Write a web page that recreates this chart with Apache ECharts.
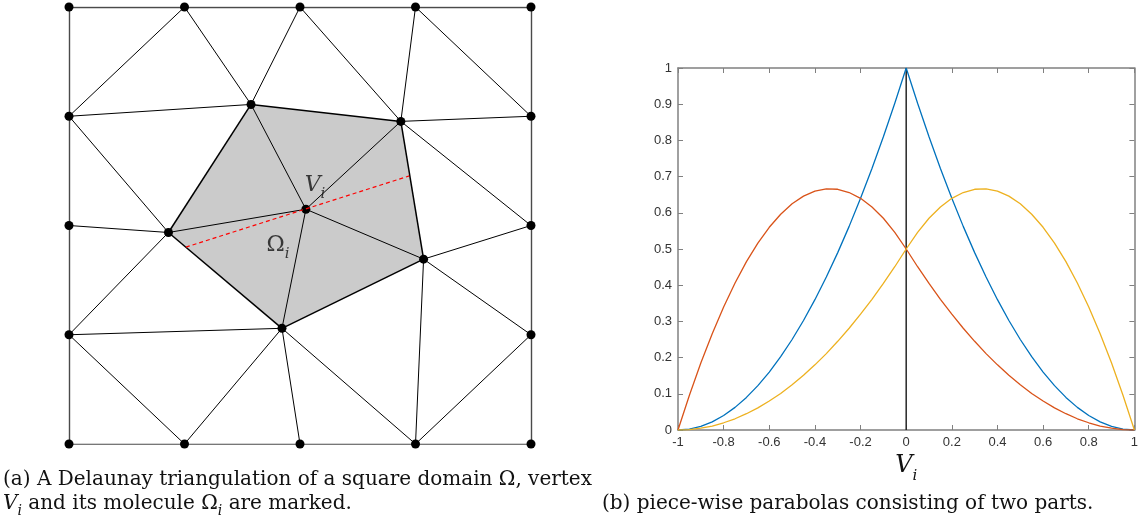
<!DOCTYPE html>
<html>
<head>
<meta charset="utf-8">
<title>Delaunay molecule and piece-wise parabolas</title>
<script src="https://cdn.jsdelivr.net/npm/echarts@6/dist/echarts.min.js"></script>
<style>
  html, body { margin: 0; padding: 0; background: #fff; }
  #main { width: 1141px; height: 526px; }
</style>
</head>
<body>
<div id="main"></div>
<script>
// ---------- (a) triangulation, domain is the square [0,4] x [0,4] ----------
var nodes = [
  [0, 4], [1, 4], [2, 4], [3, 4], [4, 4],          // 0-4 top row
  [0, 3], [0, 2], [0, 1],                          // 5-7 left side
  [4, 3], [4, 2], [4, 1],                          // 8-10 right side
  [0, 0], [1, 0], [2, 0], [3, 0], [4, 0],          // 11-15 bottom row
  [1.576, 3.108], [2.873, 2.953], [2.051, 2.149],  // 16 A, 17 B, 18 Vi
  [0.861, 1.936], [3.070, 1.692], [1.844, 1.059]   // 19 C, 20 D, 21 E
];
var boundaryEdges = [
  [0, 1], [1, 2], [2, 3], [3, 4], [4, 8], [8, 9], [9, 10], [10, 15],
  [15, 14], [14, 13], [13, 12], [12, 11], [11, 7], [7, 6], [6, 5], [5, 0]
];
var innerEdges = [
  [1, 5], [1, 16], [2, 16], [2, 17], [3, 17], [3, 8], [5, 16], [5, 19],
  [17, 8], [17, 9], [16, 18], [17, 18], [19, 18], [18, 20], [18, 21],
  [6, 19], [19, 7], [20, 9], [20, 10], [7, 21], [7, 12], [21, 12],
  [21, 13], [21, 14], [20, 14], [14, 10]
];
var molecule = [16, 17, 20, 21, 19];
var cutLine = [[1.012, 1.802], [2.946, 2.454]];
var markNames = ['V', 'Ω'];
var markAnchors = [[2.13, 2.33], [1.81, 1.78]];

// ---------- (b) piece-wise parabolas ----------
var xVals = [-1, -0.95, -0.9, -0.85, -0.8, -0.75, -0.7, -0.65, -0.6, -0.55, -0.5,
  -0.45, -0.4, -0.35, -0.3, -0.25, -0.2, -0.15, -0.1, -0.05, 0,
  0.05, 0.1, 0.15, 0.2, 0.25, 0.3, 0.35, 0.4, 0.45, 0.5,
  0.55, 0.6, 0.65, 0.7, 0.75, 0.8, 0.85, 0.9, 0.95, 1];
var blueVals = [0, 0.0025, 0.01, 0.0225, 0.04, 0.0625, 0.09, 0.1225, 0.16, 0.2025, 0.25,
  0.3025, 0.36, 0.4225, 0.49, 0.5625, 0.64, 0.7225, 0.81, 0.9025, 1,
  0.9025, 0.81, 0.7225, 0.64, 0.5625, 0.49, 0.4225, 0.36, 0.3025, 0.25,
  0.2025, 0.16, 0.1225, 0.09, 0.0625, 0.04, 0.0225, 0.01, 0.0025, 0];
var redVals = [0, 0.096, 0.185, 0.266, 0.340, 0.406, 0.465, 0.516, 0.560, 0.596, 0.625,
  0.646, 0.660, 0.666, 0.665, 0.656, 0.640, 0.616, 0.585, 0.546, 0.500,
  0.451, 0.405, 0.361, 0.320, 0.281, 0.245, 0.211, 0.180, 0.151, 0.125,
  0.101, 0.080, 0.061, 0.045, 0.031, 0.020, 0.011, 0.005, 0.001, 0];
var yellowVals = [0, 0.001, 0.005, 0.011, 0.020, 0.031, 0.045, 0.061, 0.080, 0.101, 0.125,
  0.151, 0.180, 0.211, 0.245, 0.281, 0.320, 0.361, 0.405, 0.451, 0.500,
  0.546, 0.585, 0.616, 0.640, 0.656, 0.665, 0.666, 0.660, 0.646, 0.625,
  0.596, 0.560, 0.516, 0.465, 0.406, 0.340, 0.266, 0.185, 0.096, 0];
var centerLine = [[0, 0], [0, 1]];

var serif = 'DejaVu Serif';
var sans = 'Liberation Sans';

function edgeData(list) {
  return list.map(function (e) { return { coords: [nodes[e[0]], nodes[e[1]]] }; });
}
function pairs(ys) {
  return xVals.map(function (x, i) { return [x, ys[i]]; });
}
var moleculeEdges = molecule.map(function (n, i) { return [n, molecule[(i + 1) % molecule.length]]; });

var subRich = {
  v: { fontFamily: serif, fontStyle: 'italic', fontWeight: 'normal', fontSize: 22, color: '#111', lineHeight: 24, verticalAlign: 'bottom', padding: [0, 0, 5, 0] },
  o: { fontFamily: serif, fontWeight: 'normal', fontSize: 22, color: '#111', lineHeight: 24, verticalAlign: 'bottom', padding: [0, 0, 5, 0] },
  s: { fontFamily: serif, fontStyle: 'italic', fontWeight: 'normal', fontSize: 15, color: '#111', lineHeight: 16, verticalAlign: 'bottom' }
};

var capRich = {
  v: { fontFamily: serif, fontStyle: 'italic', fontWeight: 'normal', fontSize: 20, color: '#111', lineHeight: 22, verticalAlign: 'bottom', padding: [0, 0, 4, 0] },
  t: { fontFamily: serif, fontWeight: 'normal', fontSize: 20, color: '#111', lineHeight: 22, verticalAlign: 'bottom', padding: [0, 0, 4, 0] },
  s: { fontFamily: serif, fontStyle: 'italic', fontWeight: 'normal', fontSize: 14, color: '#111', lineHeight: 15, verticalAlign: 'bottom' }
};
var capStyle = { fontWeight: 'normal', fontFamily: serif, rich: capRich };

var boxAxis = {
  axisLine: { show: true, onZero: false, lineStyle: { color: '#808080', width: 1.5 } },
  axisTick: { show: true, inside: true, length: 5, lineStyle: { color: '#808080' } },
  splitLine: { show: false }
};

var chart = echarts.init(document.getElementById('main'));
var option = {
  animation: false,
  backgroundColor: '#fff',
  title: [
    { text: '{t|(a) A Delaunay triangulation of a square domain Ω, vertex}', left: 3, top: 472, padding: 0,
      textStyle: capStyle },
    { text: '{v|V}{s|i}{t| and its molecule Ω}{s|i}{t| are marked.}', left: 3, top: 496, padding: 0,
      textStyle: capStyle },
    { text: '{t|(b) piece-wise parabolas consisting of two parts.}', left: 602, top: 496, padding: 0,
      textStyle: capStyle }
  ],
  grid: [
    { left: 69, top: 7, width: 462, height: 437 },
    { left: 678, top: 68, width: 457, height: 362 }
  ],
  xAxis: [
    { gridIndex: 0, type: 'value', min: 0, max: 4, show: false },
    Object.assign({ gridIndex: 1, type: 'value', min: -1, max: 1, interval: 0.2, position: 'bottom',
      axisLabel: { color: '#333', fontFamily: sans, fontSize: 13, margin: 6 },
      name: '{v|V}{s|i}', nameLocation: 'middle', nameGap: 16,
      nameTextStyle: { rich: {
        v: { fontFamily: serif, fontStyle: 'italic', fontSize: 24, color: '#111', lineHeight: 26, verticalAlign: 'bottom', padding: [0, 0, 6, 0] },
        s: { fontFamily: serif, fontStyle: 'italic', fontSize: 15, color: '#111', lineHeight: 16, verticalAlign: 'bottom' }
      } } }, boxAxis),
    Object.assign({ gridIndex: 1, type: 'value', min: -1, max: 1, interval: 0.2, position: 'top',
      axisLabel: { show: false } }, boxAxis)
  ],
  yAxis: [
    { gridIndex: 0, type: 'value', min: 0, max: 4, show: false },
    Object.assign({ gridIndex: 1, type: 'value', min: 0, max: 1, interval: 0.1, position: 'left',
      axisLabel: { color: '#333', fontFamily: sans, fontSize: 13, margin: 6 } }, boxAxis),
    Object.assign({ gridIndex: 1, type: 'value', min: 0, max: 1, interval: 0.1, position: 'right',
      axisLabel: { show: false } }, boxAxis)
  ],
  series: [
    {
      type: 'custom', xAxisIndex: 0, yAxisIndex: 0, z: 1, silent: true,
      data: [0],
      renderItem: function (params, api) {
        return {
          type: 'polygon',
          shape: { points: molecule.map(function (n) { return api.coord(nodes[n]); }) },
          style: { fill: '#cbcbcb', stroke: null }
        };
      }
    },
    {
      type: 'lines', coordinateSystem: 'cartesian2d', xAxisIndex: 0, yAxisIndex: 0, z: 2, silent: true,
      lineStyle: { color: '#4a4a4a', width: 1.4, opacity: 1 },
      data: edgeData(boundaryEdges)
    },
    {
      type: 'lines', coordinateSystem: 'cartesian2d', xAxisIndex: 0, yAxisIndex: 0, z: 2, silent: true,
      lineStyle: { color: '#000', width: 1, opacity: 1 },
      data: edgeData(innerEdges)
    },
    {
      type: 'lines', coordinateSystem: 'cartesian2d', xAxisIndex: 0, yAxisIndex: 0, z: 2, silent: true,
      lineStyle: { color: '#000', width: 1.5, opacity: 1 },
      data: edgeData(moleculeEdges)
    },
    {
      type: 'scatter', xAxisIndex: 0, yAxisIndex: 0, z: 3, silent: true,
      symbol: 'circle', symbolSize: 9, itemStyle: { color: '#000', opacity: 1 },
      data: nodes
    },
    {
      type: 'lines', coordinateSystem: 'cartesian2d', xAxisIndex: 0, yAxisIndex: 0, z: 4, silent: true,
      lineStyle: { color: '#ff0000', width: 1.2, type: [4, 3], opacity: 1 },
      data: [{ coords: cutLine }]
    },
    {
      type: 'scatter', xAxisIndex: 0, yAxisIndex: 0, z: 5, silent: true,
      symbolSize: 0,
      data: markAnchors.map(function (p, i) { return { value: p, name: markNames[i] }; }),
      label: {
        show: true, position: 'inside',
        formatter: function (p) { return (p.name === 'V' ? '{v|V}' : '{o|Ω}') + '{s|i}'; },
        rich: subRich
      }
    },
    {
      type: 'line', xAxisIndex: 1, yAxisIndex: 1, showSymbol: false, silent: true, z: 3,
      lineStyle: { color: '#0072BD', width: 1.3 }, data: pairs(blueVals)
    },
    {
      type: 'line', xAxisIndex: 1, yAxisIndex: 1, showSymbol: false, silent: true, z: 3,
      lineStyle: { color: '#D95319', width: 1.3 }, data: pairs(redVals)
    },
    {
      type: 'line', xAxisIndex: 1, yAxisIndex: 1, showSymbol: false, silent: true, z: 3,
      lineStyle: { color: '#EDB120', width: 1.3 }, data: pairs(yellowVals)
    },
    {
      type: 'line', xAxisIndex: 1, yAxisIndex: 1, showSymbol: false, silent: true, z: 2,
      lineStyle: { color: '#262626', width: 1.5 }, data: centerLine
    }
  ]
};
chart.setOption(option);
</script>
</body>
</html>
